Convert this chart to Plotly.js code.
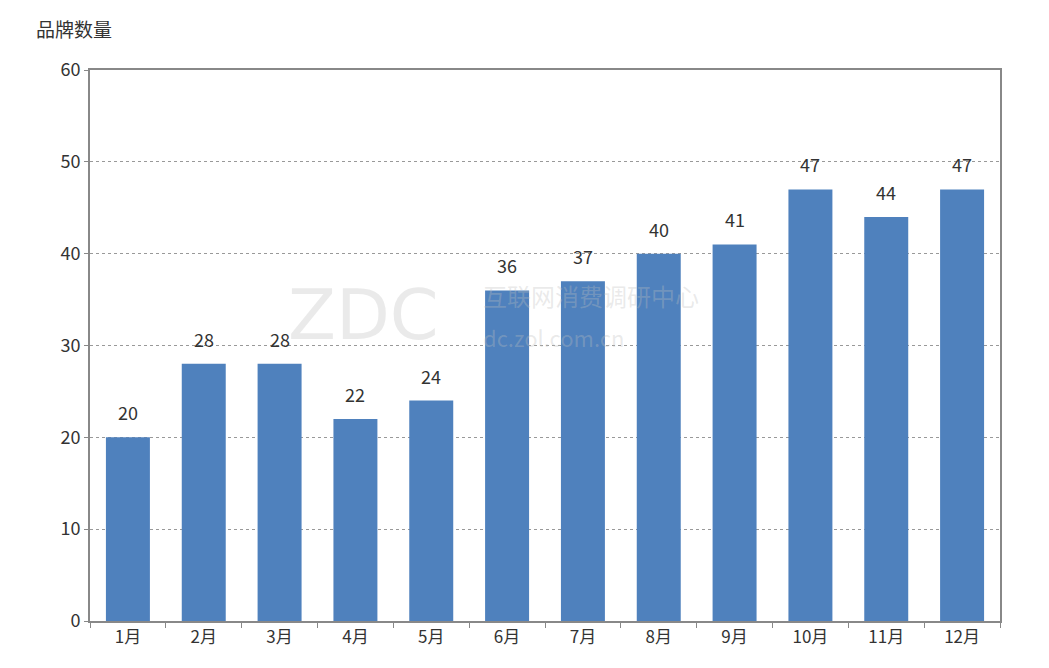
<!DOCTYPE html>
<html>
<head>
<meta charset="utf-8">
<script src="https://cdn.plot.ly/plotly-3.0.1.min.js"></script>
<style>html,body{margin:0;padding:0;background:#fff;}#chart{width:1049px;height:668px;}</style>
</head>
<body>
<div id="chart"></div>
<script>
const months = ["1月","2月","3月","4月","5月","6月","7月","8月","9月","10月","11月","12月"];
const brandCounts = [20, 28, 28, 22, 24, 36, 37, 40, 41, 47, 44, 47];
const yTicks = [0, 10, 20, 30, 40, 50, 60];

const font = "'Noto Sans CJK SC', 'Open Sans', sans-serif";

const trace = {
  type: 'bar',
  x: months,
  y: brandCounts,
  marker: {color: '#4F81BD', line: {width: 0}},
  hoverinfo: 'none'
};

const valueLabels = months.map((m, i) => ({
  x: m, y: brandCounts[i], xref: 'x', yref: 'y',
  text: String(brandCounts[i]), showarrow: false,
  yanchor: 'middle', yshift: 25,
  font: {family: font, size: 18, color: '#333'}
}));

const wm = 'rgba(190,190,190,0.32)';

const layout = {
  width: 1049, height: 668,
  margin: {l: 90, r: 49, t: 70, b: 47},
  paper_bgcolor: '#fff', plot_bgcolor: '#fff',
  bargap: 0.42,
  showlegend: false,
  font: {family: font, size: 16, color: '#333'},
  xaxis: {
    type: 'category',
    showline: true, linecolor: '#888', linewidth: 2, mirror: true,
    ticks: 'outside', tickson: 'boundaries', ticklen: 5, tickcolor: '#888',
    showgrid: false,
    tickfont: {family: font, size: 17, color: '#333'}
  },
  yaxis: {
    range: [0, 60], tickvals: yTicks,
    showline: true, linecolor: '#888', linewidth: 2, mirror: true,
    ticks: 'outside', ticklen: 4, tickcolor: '#888',
    showgrid: true, gridcolor: '#999', griddash: 'dot', gridwidth: 1,
    zeroline: false,
    tickfont: {family: font, size: 18, color: '#333'}
  },
  annotations: [
    {text: '品牌数量', xref: 'paper', yref: 'paper', x: -0.062, y: 1.076, xanchor: 'left', yanchor: 'middle', showarrow: false, font: {family: font, size: 19, color: '#333'}},
    {text: 'ZDC', xref: 'paper', yref: 'paper', x: 0.215, y: 0.555, xanchor: 'left', yanchor: 'middle', showarrow: false, font: {family: 'DejaVu Sans', size: 70, color: wm}},
    {text: '互联网消费调研中心', xref: 'paper', yref: 'paper', x: 0.43, y: 0.59, xanchor: 'left', yanchor: 'middle', showarrow: false, font: {family: font, size: 24, color: wm}},
    {text: 'dc.zol.com.cn', xref: 'paper', yref: 'paper', x: 0.43, y: 0.515, xanchor: 'left', yanchor: 'middle', showarrow: false, font: {family: font, size: 22, color: wm}}
  ].concat(valueLabels)
};

Plotly.newPlot('chart', [trace], layout, {displayModeBar: false, staticPlot: true});
</script>
</body>
</html>
